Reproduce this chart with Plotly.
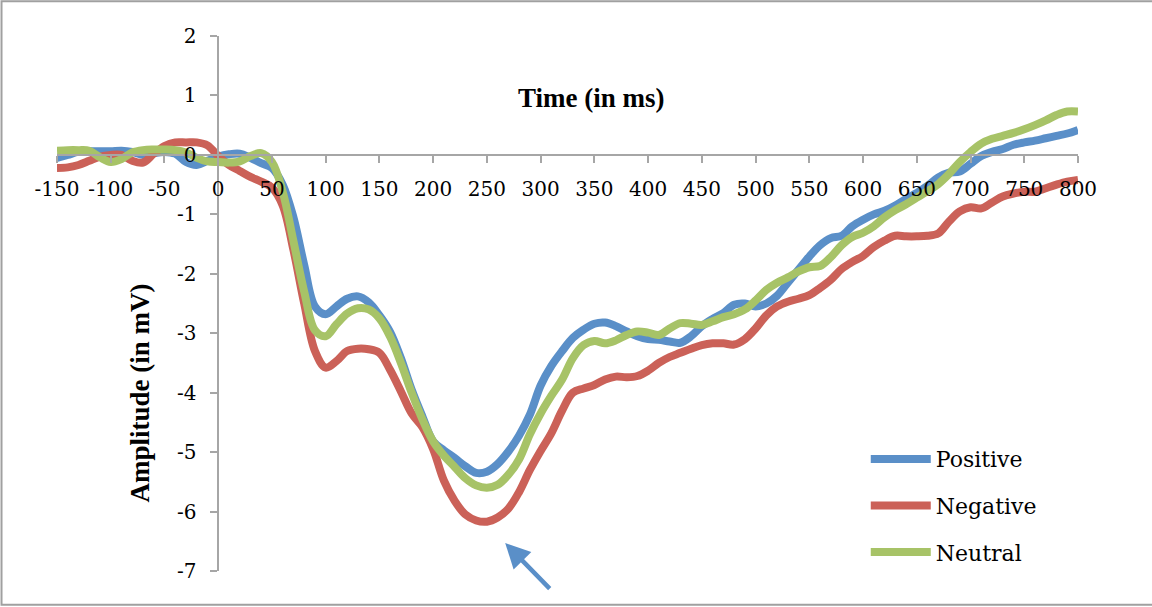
import plotly.graph_objects as go

time_ms = list(range(-150, 801, 10))

positive = [
    -0.05, 0.0, 0.05, 0.06, 0.06, 0.06, 0.07, 0.05, 0.0, 0.03,
    0.05, 0.02, -0.12, -0.17, -0.1, -0.03, 0.01, 0.02, -0.05, -0.14,
    -0.22, -0.5, -1.05, -1.85, -2.55, -2.68, -2.55, -2.42, -2.38, -2.48,
    -2.7, -2.98, -3.42, -3.95, -4.4, -4.82, -4.97, -5.1, -5.24, -5.35,
    -5.33, -5.2, -4.99, -4.72, -4.37, -3.88, -3.55, -3.3, -3.08, -2.94,
    -2.84, -2.82, -2.88, -2.97, -3.05, -3.1, -3.11, -3.14, -3.16, -3.05,
    -2.88, -2.76, -2.66, -2.52, -2.5, -2.55, -2.5, -2.37, -2.15, -1.93,
    -1.71, -1.52, -1.4, -1.36, -1.2, -1.09, -1.0, -0.94, -0.85, -0.74,
    -0.64, -0.52, -0.38, -0.3, -0.28, -0.15, -0.02, 0.05, 0.1, 0.17,
    0.21, 0.24, 0.28, 0.32, 0.36, 0.42,
]

negative = [
    -0.22, -0.21, -0.17, -0.1, -0.03, 0.0, 0.0, -0.1, -0.13, 0.02,
    0.15, 0.21, 0.21, 0.21, 0.16, -0.02, -0.17, -0.27, -0.37, -0.45,
    -0.55, -0.85, -1.6, -2.5, -3.3, -3.58, -3.47, -3.3, -3.26, -3.27,
    -3.33, -3.62, -3.98, -4.35, -4.58, -4.95, -5.48, -5.82, -6.05, -6.15,
    -6.17, -6.1, -5.95, -5.67, -5.3, -4.98, -4.68, -4.3, -4.0, -3.93,
    -3.87, -3.78, -3.73, -3.74, -3.72, -3.63, -3.5, -3.4, -3.33, -3.26,
    -3.2, -3.17, -3.17, -3.19, -3.1, -2.92, -2.7, -2.55, -2.47, -2.42,
    -2.36, -2.24, -2.1, -1.92, -1.8, -1.7, -1.55, -1.44, -1.36, -1.37,
    -1.37, -1.36, -1.32, -1.12, -0.95, -0.88, -0.9, -0.8, -0.7, -0.65,
    -0.62, -0.62, -0.56, -0.5, -0.45, -0.42,
]

neutral = [
    0.07, 0.08, 0.08, 0.07, -0.04, -0.12, -0.07, 0.04, 0.08, 0.09,
    0.09, 0.08, 0.04, -0.05, -0.11, -0.12, -0.13, -0.11, -0.02, 0.03,
    -0.12, -0.62, -1.45, -2.3, -2.95, -3.05, -2.85, -2.67, -2.58, -2.6,
    -2.75, -3.06, -3.5, -4.0, -4.45, -4.82, -5.06, -5.25, -5.44, -5.56,
    -5.6, -5.55, -5.38, -5.12, -4.7, -4.35, -4.05, -3.78, -3.42, -3.2,
    -3.13, -3.17, -3.12, -3.03, -2.97, -2.99, -3.03, -2.92, -2.83, -2.84,
    -2.86, -2.8, -2.73, -2.68, -2.6, -2.45, -2.27, -2.15, -2.06, -1.96,
    -1.89, -1.87, -1.72, -1.52, -1.38, -1.31, -1.2, -1.05, -0.93, -0.83,
    -0.72, -0.61, -0.49, -0.32, -0.12, 0.05, 0.19, 0.27, 0.32, 0.37,
    0.43, 0.5, 0.58, 0.67, 0.73, 0.73,
]

series_names = ["Positive", "Negative", "Neutral"]
series_colors = ["#5A8FC8", "#CB6158", "#A7C367"]
x_ticks = list(range(-150, 801, 50))
y_ticks = list(range(-7, 3, 1))

W, H = 1152, 607
L, R, T, B = 57, 1078.3, 36.2, 570.8
PW, PH = R - L, B - T


def px2paper_x(px):
    return (px - L) / PW


def px2paper_y(py):
    return (B - py) / PH


fig = go.Figure()
for name, vals, col in zip(series_names, [positive, negative, neutral], series_colors):
    fig.add_trace(go.Scatter(
        x=time_ms, y=vals, name=name, mode="lines",
        line=dict(color=col, width=8, shape="spline", smoothing=1.0),
        legendgroup=name,
    ))

tick_font = dict(family="DejaVu Serif", size=20, color="#000000")
axis_col = "#A6A6A6"

fig.update_layout(
    width=W, height=H,
    margin=dict(l=L, r=W - R, t=T, b=H - B, pad=0),
    paper_bgcolor="white", plot_bgcolor="white",
    showlegend=True,
    legend=dict(
        x=px2paper_x(866), y=px2paper_y(438), xanchor="left", yanchor="top",
        font=dict(family="DejaVu Serif", size=22, color="#000000"),
        bgcolor="rgba(0,0,0,0)", itemwidth=60, tracegroupgap=15,
    ),
    xaxis=dict(
        range=[-150, 800], tickvals=x_ticks, ticktext=[str(v) for v in x_ticks],
        showgrid=False, zeroline=False, showline=True, linecolor=axis_col, linewidth=1.5,
        ticks="outside", ticklen=7, tickcolor=axis_col, tickwidth=1.5,
        tickfont=tick_font, anchor="free", position=7 / 9, ticklabelstandoff=9,
    ),
    yaxis=dict(
        range=[-7, 2], tickvals=y_ticks, ticktext=[str(v) for v in y_ticks],
        showgrid=False, zeroline=False, showline=True, linecolor=axis_col, linewidth=1.5,
        ticks="outside", ticklen=7, tickcolor=axis_col, tickwidth=1.5,
        tickfont=tick_font, anchor="free", position=150 / 950, ticklabelstandoff=10,
    ),
    annotations=[
        dict(text="<b>Time (in ms)</b>", xref="paper", yref="paper",
             x=px2paper_x(592), y=px2paper_y(98), xanchor="center", yanchor="middle",
             showarrow=False,
             font=dict(family="Liberation Serif", size=27, color="#000000")),
        dict(text="<b>Amplitude (in mV)</b>", xref="paper", yref="paper",
             x=px2paper_x(140), y=px2paper_y(392.5), xanchor="center", yanchor="middle",
             showarrow=False, textangle=-90,
             font=dict(family="Liberation Serif", size=27, color="#000000")),
        dict(text="", x=267, y=-6.53, xref="x", yref="y", showarrow=True,
             ax=46, ay=47, arrowhead=2, arrowsize=1.1, arrowwidth=4.5,
             arrowcolor="#5A8FC8", standoff=0),
    ],
    shapes=[
        dict(type="rect", xref="paper", yref="paper",
             x0=px2paper_x(1.5), x1=px2paper_x(1170), y0=px2paper_y(604.5), y1=px2paper_y(1.5),
             line=dict(color="#A0A0A0", width=2), fillcolor="rgba(0,0,0,0)", layer="below"),
    ],
)

fig.write_html("out.html")
